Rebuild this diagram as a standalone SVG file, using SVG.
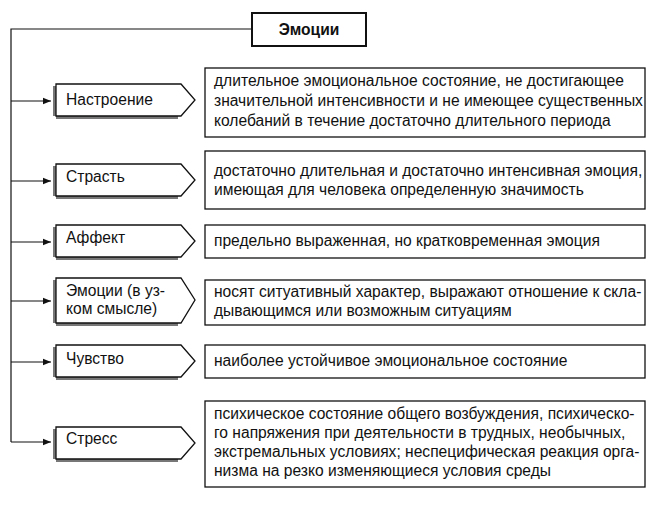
<svg xmlns="http://www.w3.org/2000/svg" width="660" height="507" viewBox="0 0 660 507">
<style>
text{font-family:"Liberation Sans",Arial,sans-serif;font-size:15.6px;fill:#111}
.b{fill:#fff;stroke:#111;stroke-width:1.3}
.sh{fill:#777}
.c{stroke:#111;stroke-width:1.2;fill:none}
</style>
<defs><marker id="a" viewBox="0 0 10 10" refX="10" refY="5" markerWidth="8" markerHeight="8" markerUnits="userSpaceOnUse" orient="auto"><path d="M0,1L10,5L0,9Z" fill="#111"/></marker></defs>
<rect width="660" height="507" fill="#fff"/>
<g id="connectors">
<path class="c" d="M252,29H11V442"/>
<path class="c" marker-end="url(#a)" d="M11,101H51"/>
<path class="c" marker-end="url(#a)" d="M11,181H51"/>
<path class="c" marker-end="url(#a)" d="M11,242H51"/>
<path class="c" marker-end="url(#a)" d="M11,301H51"/>
<path class="c" marker-end="url(#a)" d="M11,362H51"/>
<path class="c" marker-end="url(#a)" d="M11,442H51"/>
</g>
<g id="root"><rect x="252" y="13" width="114" height="33" fill="#fff" stroke="#111" stroke-width="2"/><text x="309" y="35" text-anchor="middle" font-weight="bold">Эмоции</text></g>
<g id="n1"><path class="sh" d="M53,86h3v33h122v-3H53Z"/><path class="b" d="M56,84H181L195,100L181,116H56Z"/><text x="66" y="105">Настроение</text></g>
<g id="n2"><path class="sh" d="M53,166h3v33h122v-3H53Z"/><path class="b" d="M56,164H181L195,180L181,196H56Z"/><text x="66" y="182">Страсть</text></g>
<g id="n3"><path class="sh" d="M53,227h3v33h122v-3H53Z"/><path class="b" d="M56,225H181L195,241L181,257H56Z"/><text x="66" y="243">Аффект</text></g>
<g id="n4"><path class="sh" d="M53,280h3v46h122v-3H53Z"/><path class="b" d="M56,278H181L195,300L181,323H56Z"/><text x="66" y="296">Эмоции (в уз-</text><text x="66" y="314">ком смысле)</text></g>
<g id="n5"><path class="sh" d="M53,347h3v33h122v-3H53Z"/><path class="b" d="M56,345H181L195,361L181,377H56Z"/><text x="66" y="364">Чувство</text></g>
<g id="n6"><path class="sh" d="M53,429h3v33h122v-3H53Z"/><path class="b" d="M56,427H181L195,443L181,459H56Z"/><text x="66" y="444">Стресс</text></g>
<g id="d1"><rect class="b" x="205" y="68" width="440" height="69"/><text x="214" y="86">длительное эмоциональное состояние, не достигающее</text><text x="214" y="106">значительной интенсивности и не имеющее существенных</text><text x="214" y="126">колебаний в течение достаточно длительного периода</text></g>
<g id="d2"><rect class="b" x="205" y="151" width="440" height="58"/><text x="214" y="176">достаточно длительная и достаточно интенсивная эмоция,</text><text x="214" y="195">имеющая для человека определенную значимость</text></g>
<g id="d3"><rect class="b" x="205" y="225" width="440" height="33"/><text x="214" y="246">предельно выраженная, но кратковременная эмоция</text></g>
<g id="d4"><rect class="b" x="205" y="280" width="440" height="45"/><text x="214" y="297">носят ситуативный характер, выражают отношение к скла-</text><text x="214" y="316">дывающимся  или возможным ситуациям</text></g>
<g id="d5"><rect class="b" x="205" y="345" width="440" height="33"/><text x="214" y="366">наиболее устойчивое эмоциональное состояние</text></g>
<g id="d6"><rect class="b" x="205" y="401" width="440" height="86"/><text x="214" y="419">психическое состояние общего возбуждения, психическо-</text><text x="214" y="438">го напряжения при деятельности в трудных, необычных,</text><text x="214" y="457">экстремальных условиях; неспецифическая реакция орга-</text><text x="214" y="476">низма на резко изменяющиеся условия среды</text></g>
</svg>
